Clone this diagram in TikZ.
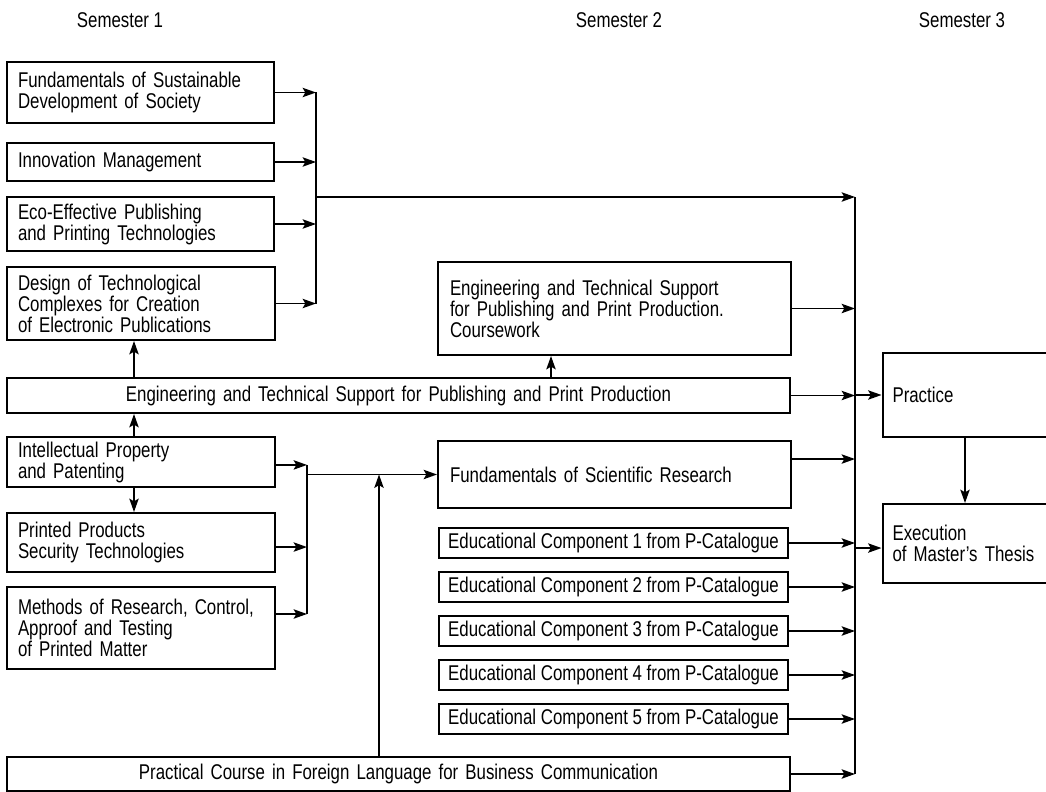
\documentclass[tikz,border=0pt]{standalone}
\usepackage{fontspec}
\setmainfont{Liberation Sans}[FakeStretch=0.79]
\usetikzlibrary{arrows.meta}
\begin{document}
\begin{tikzpicture}[x=0.75pt,y=-0.75pt,
  every node/.style={font=\fontsize{16}{15.75}\selectfont},
  bx/.style n args={2}{draw, line width=1.5pt, minimum width=#1*0.75pt, minimum height=#2*0.75pt,
     inner xsep=8.25pt, inner ysep=1pt, text width=(#1-22)*0.75pt, align=left},
  bxc/.style n args={2}{bx={#1}{#2}, align=center},
  ebx/.style={draw, line width=1.5pt, minimum width=349*0.75pt, minimum height=30*0.75pt, inner sep=1pt},
  arr/.style={line width=1.3pt, -{Stealth[length=10pt,width=7pt,inset=2pt]}},
  ln/.style={line width=1.3pt},
  sem/.style={inner sep=0pt}]
\useasboundingbox (0,0) rectangle (1046,792);
\clip (0,0) rectangle (1046,792);
% headers
\node[sem] (s1) at (120,20) {Semester 1};
\node[sem] (s2) at (619,20) {Semester 2};
\node[sem] (s3) at (962,20) {Semester 3};
% left column
\node[bx={267}{61}] (b1) at (140.5,92.5) {Fundamentals of Sustainable\\Development of Society};
\node[bx={267}{38}] (b2) at (140.5,162) {Innovation Management};
\node[bx={267}{54}] (b3) at (140.5,224) {Eco-Effective Publishing\\and Printing Technologies};
\node[bx={268}{73}] (b4) at (141,303.5) {Design of Technological\\Complexes for Creation\\of Electronic Publications};
\node[bxc={783}{35}] (wide) at (398.5,395.5) {Engineering and Technical Support for Publishing and Print Production};
\node[bx={268}{50}] (b5) at (141,462) {Intellectual Property\\and Patenting};
\node[bx={268}{59}] (b6) at (141,542.5) {Printed Products\\Security Technologies};
\node[bx={268}{82}] (b7) at (141,628) {Methods of Research, Control,\\Approof and Testing\\of Printed Matter};
\node[bxc={783}{34}] (pc) at (398.5,774) {Practical Course in Foreign Language for Business Communication};
% middle column
\node[bx={351}{93}, inner xsep=9pt] (cw) at (614.5,308.5) {Engineering and Technical Support\\for Publishing and Print Production.\\Coursework};
\node[bx={351}{67}, inner xsep=9pt] (fsr) at (614.5,474.5) {Fundamentals of Scientific Research};
\node[ebx] (e1) at (613.5,543) {Educational Component 1 from P-Catalogue};
\node[ebx] (e2) at (613.5,587) {Educational Component 2 from P-Catalogue};
\node[ebx] (e3) at (613.5,631) {Educational Component 3 from P-Catalogue};
\node[ebx] (e4) at (613.5,675) {Educational Component 4 from P-Catalogue};
\node[ebx] (e5) at (613.5,719) {Educational Component 5 from P-Catalogue};
% right column
\node[bx={185}{84}, inner xsep=7.5pt, text width=170*0.75pt] (pr) at (977.5,395) {Practice};
\node[bx={185}{79}, inner xsep=7.5pt, text width=170*0.75pt] (ex) at (977.5,543.5) {Execution\\of Master's Thesis};
% junction 1
\coordinate (j1) at (316,197);
\draw[ln] (b1.east -| j1) -- (b4.east -| j1);
\foreach \b in {b1,b2,b3,b4} \draw[arr] (\b.east) -- (\b.east -| j1);
% bus
\coordinate (bus) at (855,197);
\draw[arr] (j1) -- (bus);
\draw[ln] (bus) -- (pc.east -| bus);
\draw[arr] (cw.east) -- (cw.east -| bus);
\draw[arr] (wide.east) -- (wide.east -| bus);
\draw[arr] ([yshift=11.6pt]fsr.east) -- ([yshift=11.6pt]fsr.east -| bus);
\foreach \b in {e1,e2,e3,e4,e5,pc} \draw[arr] (\b.east) -- (\b.east -| bus);
\draw[arr] (pr.west -| bus) -- (pr.west);
\draw[arr] ([yshift=-3.4pt]ex.west -| bus) -- ([yshift=-3.4pt]ex.west);
% junction 2
\coordinate (j2) at (307,474.5);
\draw[ln] ([yshift=-2.2pt]b5.east -| j2) -- ([yshift=10.5pt]b7.east -| j2);
\draw[arr] ([yshift=-2.2pt]b5.east) -- ([yshift=-2.2pt]b5.east -| j2);
\draw[arr] ([yshift=-3.4pt]b6.east) -- ([yshift=-3.4pt]b6.east -| j2);
\draw[arr] ([yshift=10.5pt]b7.east) -- ([yshift=10.5pt]b7.east -| j2);
\draw[arr] (j2) -- (fsr.west);
\coordinate (jm) at (379,474.5);
\draw[arr] (pc.north -| jm) -- (jm);
% vertical arrows
\coordinate (xa) at (134,0);
\coordinate (xc) at (551,0);
\coordinate (xe) at (965,0);
\draw[arr] (wide.north -| xa) -- (b4.south -| xa);
\draw[arr] (b5.north -| xa) -- (wide.south -| xa);
\draw[arr] (b5.south -| xa) -- (b6.north -| xa);
\draw[arr] (wide.north -| xc) -- (cw.south -| xc);
\draw[arr] (pr.south -| xe) -- (ex.north -| xe);
\end{tikzpicture}
\end{document}
